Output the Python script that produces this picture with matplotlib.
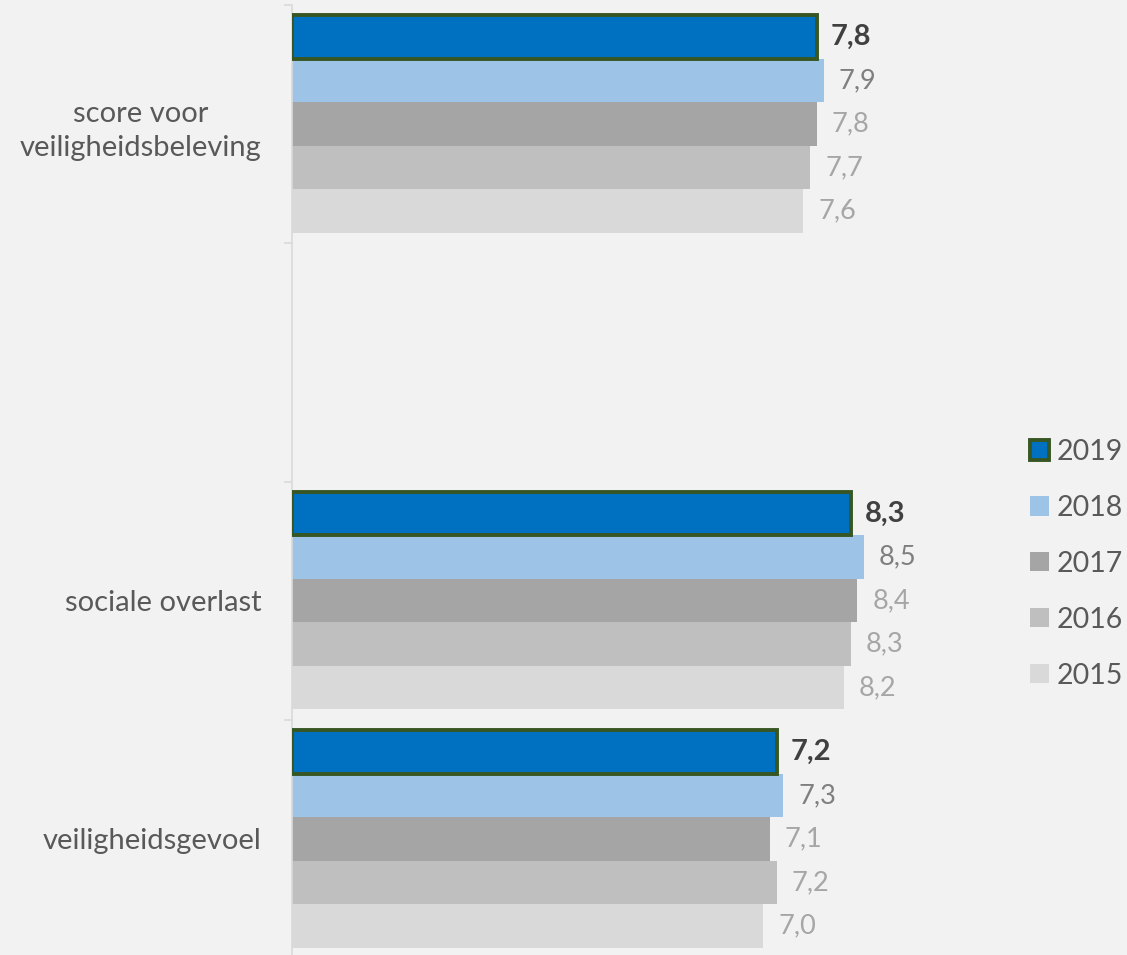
import matplotlib
matplotlib.use("Agg")
import matplotlib.pyplot as plt
from matplotlib.patches import Patch
import numpy as np

categories = ["score voor\nveiligheidsbeleving", "", "sociale overlast", "veiligheidsgevoel"]
years = ["2019", "2018", "2017", "2016", "2015"]
values = {
    "2019": [7.8, None, 8.3, 7.2],
    "2018": [7.9, None, 8.5, 7.3],
    "2017": [7.8, None, 8.4, 7.1],
    "2016": [7.7, None, 8.3, 7.2],
    "2015": [7.6, None, 8.2, 7.0],
}
colors = {"2019": "#0070c0", "2018": "#9dc3e6", "2017": "#a5a5a5",
          "2016": "#bfbfbf", "2015": "#d9d9d9"}
label_colors = {"2019": "#404040", "2018": "#7f7f7f", "2017": "#a6a6a6",
                "2016": "#a6a6a6", "2015": "#a6a6a6"}
edge_2019 = "#375623"

plt.rcParams['font.family'] = ['Lato', 'DejaVu Sans']
W, H = 1127, 955
fig = plt.figure(figsize=(W / 100, H / 100), dpi=100, facecolor="#f2f2f2")
ax = fig.add_axes([292 / W, (H - 958) / H, 673 / W, (958 - 5) / H])
ax.set_facecolor("#f2f2f2")

n = len(years)
group = 0.912
bh = group / n
y = np.arange(len(categories))
for i, yr in enumerate(years):
    off = -group / 2 + bh * (i + 0.5)
    for j, v in enumerate(values[yr]):
        if v is None:
            continue
        if yr == "2019":
            ax.barh(y[j] + off, v, height=bh, color=colors[yr], edgecolor=edge_2019,
                    linewidth=2.8, zorder=3)
            ax.annotate(f"{v:.1f}".replace(".", ","), (v, y[j] + off), xytext=(14, 0),
                        textcoords="offset pixels", va="center", ha="left",
                        fontsize=21, fontweight="bold", color=label_colors[yr])
        else:
            ax.barh(y[j] + off, v, height=bh, color=colors[yr], linewidth=0, zorder=2)
            ax.annotate(f"{v:.1f}".replace(".", ","), (v, y[j] + off), xytext=(15, 0),
                        textcoords="offset pixels", va="center", ha="left",
                        fontsize=19.5, color=label_colors[yr])

ax.set_xlim(0, 10)
ax.set_ylim(len(categories) - 0.5, -0.5)
ax.set_xticks([])
ax.set_yticks(np.arange(len(categories) + 1) - 0.5)
ax.set_yticklabels([])
ax.set_yticks(y, minor=True)
ax.set_yticklabels(categories, minor=True, fontsize=21, color="#595959", linespacing=1.42)
ax.tick_params(axis="y", which="major", length=6, color="#d9d9d9", width=1.2)
ax.tick_params(axis="y", which="minor", length=0, pad=22)
for lab in ax.get_yticklabels(minor=True):
    lab.set_multialignment("center")
for s in ["top", "right", "bottom"]:
    ax.spines[s].set_visible(False)
ax.spines["left"].set_color("#d9d9d9")
ax.spines["left"].set_linewidth(1.2)

handles = []
for yr in years:
    if yr == "2019":
        handles.append(Patch(facecolor=colors[yr], edgecolor=edge_2019, linewidth=2.8))
    else:
        handles.append(Patch(facecolor=colors[yr], edgecolor="none"))
fs = 20.5
leg = fig.legend(handles, years, loc="upper left", bbox_to_anchor=(1030 / W, 1 - 439 / H),
                 frameon=False, fontsize=fs, handlelength=0.67, handleheight=0.67,
                 handletextpad=0.28, labelspacing=1.05, borderaxespad=0, borderpad=0)
for t in leg.get_texts():
    t.set_color("#595959")

fig.savefig("out.png", dpi=100, facecolor=fig.get_facecolor())
